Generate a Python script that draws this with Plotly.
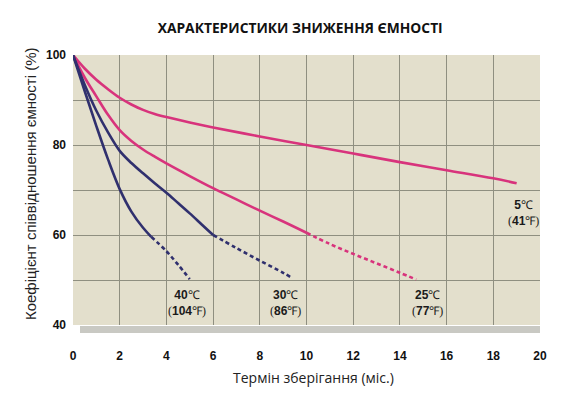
import plotly.graph_objects as go

# storage time (months) vs capacity retention (%)
months_5c = [0, 0.5, 1, 1.5, 2, 2.5, 3, 3.5, 4, 5, 6, 8, 10, 12, 14, 16, 18, 19]
cap_5c = [100, 97.0, 94.5, 92.4, 90.5, 89.0, 87.8, 86.9, 86.2, 85.0, 83.9, 81.9, 80.0,
          78.1, 76.2, 74.4, 72.6, 71.5]

months_25c = [0, 0.5, 1, 1.5, 2, 2.5, 3, 3.5, 4, 5, 6, 7, 8, 9, 10]
cap_25c = [100, 95.0, 90.8, 86.7, 83.3, 80.9, 79.0, 77.4, 75.9, 73.1, 70.4, 67.9, 65.4, 63.0, 60.5]
months_25c_ext = [10, 11, 12, 13, 14, 14.7]
cap_25c_ext = [60.5, 58.0, 55.8, 53.7, 51.6, 50.1]

months_30c = [0, 0.5, 1, 1.5, 2, 2.5, 3, 3.5, 4, 4.5, 5, 5.5, 6]
cap_30c = [100, 93.4, 87.6, 82.8, 78.7, 76.0, 73.7, 71.5, 69.4, 67.1, 64.8, 62.4, 60.0]
months_30c_ext = [6, 7, 8, 9, 9.4]
cap_30c_ext = [60.0, 57.1, 54.3, 51.6, 50.4]

months_40c = [0, 0.5, 1, 1.5, 2, 2.5, 3, 3.35]
cap_40c = [100, 92.0, 84.2, 76.8, 70.2, 65.2, 61.6, 59.6]
months_40c_ext = [3.35, 4, 4.5, 5.0]
cap_40c_ext = [59.6, 56.4, 53.4, 50.2]

label_deg_c = ["40", "30", "25", "5"]
label_deg_f = ["104", "86", "77", "41"]
label_x = [4.9, 9.1, 15.2, 19.3]
label_y = [44.8, 44.8, 44.8, 65.0]

x_ticks = list(range(0, 21, 2))
y_ticks = [40, 50, 60, 70, 80, 90, 100]
y_ticktext = ["40", "", "60", "", "80", "", "100"]

PINK = "#d8337c"
NAVY = "#30306e"
SERIF = "<span style='font-family:Liberation Serif;font-weight:normal'>"

fig = go.Figure()

def add_curve(x, y, color, dash="solid"):
    fig.add_trace(go.Scatter(
        x=x, y=y, mode="lines",
        line=dict(color=color, width=2.6, dash=dash, shape="spline", smoothing=1.0),
        hoverinfo="skip", showlegend=False
    ))

add_curve(months_5c, cap_5c, PINK)
add_curve(months_25c, cap_25c, PINK)
add_curve(months_25c_ext, cap_25c_ext, PINK, "4px,3px")
add_curve(months_30c, cap_30c, NAVY)
add_curve(months_30c_ext, cap_30c_ext, NAVY, "4px,3px")
add_curve(months_40c, cap_40c, NAVY)
add_curve(months_40c_ext, cap_40c_ext, NAVY, "4px,3px")

for c, f, lx, ly in zip(label_deg_c, label_deg_f, label_x, label_y):
    txt = f"<b>{c}</b>{SERIF}℃</span><br>{SERIF}(</span><b>{f}</b>{SERIF}℉)</span>"
    fig.add_annotation(x=lx, y=ly, text=txt, showarrow=False,
                       font=dict(family="Liberation Sans", size=12, color="#1a1a1a"))

# axis titles as annotations, placed like the source
fig.add_annotation(x=0.514, y=-0.195, xref="paper", yref="paper",
                   text="Термін зберігання (міс.)", showarrow=False,
                   xanchor="center", yanchor="middle",
                   font=dict(family="Open Sans", size=14, color="#222"))
fig.add_annotation(x=-0.092, y=0.522, xref="paper", yref="paper", textangle=-90,
                   text="Коефіцієнт співвідношення ємності (%)", showarrow=False,
                   xanchor="center", yanchor="middle",
                   font=dict(family="Liberation Sans", size=15, color="#222"))

# grey shadow under the plot area
fig.add_shape(type="rect", xref="x domain", yref="y domain",
              x0=0.015, x1=1.0, y0=-0.03, y1=-0.004,
              fillcolor="#c9c9c3", line=dict(width=0), layer="below")

fig.update_layout(
    width=573, height=400,
    margin=dict(l=65, r=41, t=47, b=83, autoexpand=False),
    paper_bgcolor="white",
    plot_bgcolor="#e3dfcc",
    title=dict(text="<b>ХАРАКТЕРИСТИКИ ЗНИЖЕННЯ ЄМНОСТІ</b>", x=0.51, xanchor="center",
               y=0.95, yanchor="middle",
               font=dict(family="Open Sans", size=13.8, color="#111")),
    showlegend=False,
)
fig.update_xaxes(
    range=[0, 20], tickvals=x_ticks, showgrid=True, gridcolor="#8f8f80", gridwidth=1,
    zeroline=False, showline=False, ticks="", ticklabelstandoff=22, automargin=False,
    tickfont=dict(family="Liberation Sans", size=12, color="#111", weight="bold"),
)
fig.update_yaxes(
    range=[40, 100], tickvals=y_ticks, ticktext=y_ticktext, showgrid=True,
    gridcolor="#8f8f80", gridwidth=1, zeroline=False, showline=False, ticks="",
    ticklabelstandoff=6, automargin=False,
    tickfont=dict(family="Liberation Sans", size=12, color="#111", weight="bold"),
)

fig.write_html("out.html")
